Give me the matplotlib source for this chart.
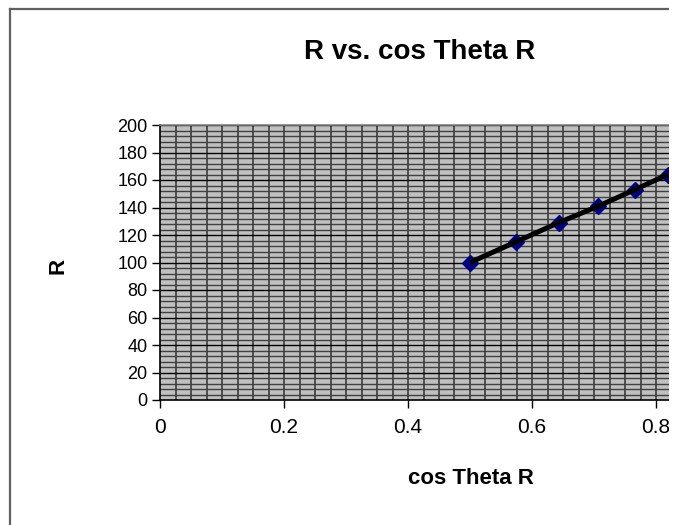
import matplotlib
matplotlib.use("Agg")
import matplotlib.pyplot as plt
import numpy as np
from matplotlib.lines import Line2D
from matplotlib.patches import Rectangle

plt.rcParams['font.family'] = ['Liberation Sans', 'DejaVu Sans']

# data
cos_theta = [0.500, 0.574, 0.643, 0.707, 0.766, 0.819]
r_values = [100, 115, 129, 141, 153, 164]

title = "R vs. cos Theta R"
xlabel = "cos Theta R"
ylabel = "R"
xticks = [0, 0.2, 0.4, 0.6, 0.8, 1.0]
xtick_labels = ["0", "0.2", "0.4", "0.6", "0.8", "1"]
yticks = list(range(0, 201, 20))

fig = plt.figure(figsize=(6.75, 5.25), dpi=100)
# axes reaches past the right edge, like the cropped original
ax = fig.add_axes([160 / 675, 1 - 400 / 525, 620 / 675, 275 / 525])
ax.set_facecolor("#C0C0C0")
ax.set_xlim(0, 1)
ax.set_ylim(0, 200)

# gridlines
for gx in np.arange(0.025, 1.0, 0.025):
    ax.axvline(gx, color="#303030", lw=1.1, zorder=1)
for gy in np.arange(4, 201, 4):
    c = "#000000" if gy % 20 == 0 else "#404040"
    ax.axhline(gy, color=c, lw=1.0, zorder=1)

ax.plot(cos_theta, r_values, linestyle="none", marker="D", ms=8,
        color="#000080", zorder=3)
ax.plot(cos_theta, r_values, color="black", lw=3.6, zorder=4,
        solid_capstyle="butt")

ax.set_xticks(xticks)
ax.set_xticklabels(xtick_labels)
ax.set_yticks(yticks)
ax.tick_params(axis="both", direction="out", length=6, width=1,
               colors="black")
ax.tick_params(axis="x", pad=7, labelsize=15)
ax.tick_params(axis="y", pad=3, labelsize=13)

ax.spines["left"].set_color("black")
ax.spines["bottom"].set_color("black")
ax.spines["top"].set_color("#808080")
ax.spines["right"].set_visible(False)
for s in ax.spines.values():
    s.set_linewidth(1.2)

fig.text(420 / 675, 1 - 52 / 525, title, ha="center", va="center",
         fontsize=20, fontweight="bold")
fig.text(471 / 675, 1 - 478 / 525, xlabel, ha="center", va="center",
         fontsize=16, fontweight="bold")
fig.text(58 / 675, 1 - 266 / 525, ylabel, ha="center", va="center",
         fontsize=16, fontweight="bold", rotation=90)

# original picture is cropped at x ~ 669 and padded with white
fig.add_artist(Rectangle((669 / 675, 0), 6 / 675, 1, transform=fig.transFigure,
                         facecolor="white", edgecolor="none", zorder=10))

# chart frame (left and top only visible in the crop)
fig.add_artist(Line2D([10 / 675, 10 / 675], [0, 1 - 9 / 525],
                      transform=fig.transFigure, color="#606060", lw=1.6))
fig.add_artist(Line2D([10 / 675, 668 / 675], [1 - 9 / 525, 1 - 9 / 525],
                      transform=fig.transFigure, color="#606060", lw=1.6))

fig.savefig("out.png", dpi=100)
